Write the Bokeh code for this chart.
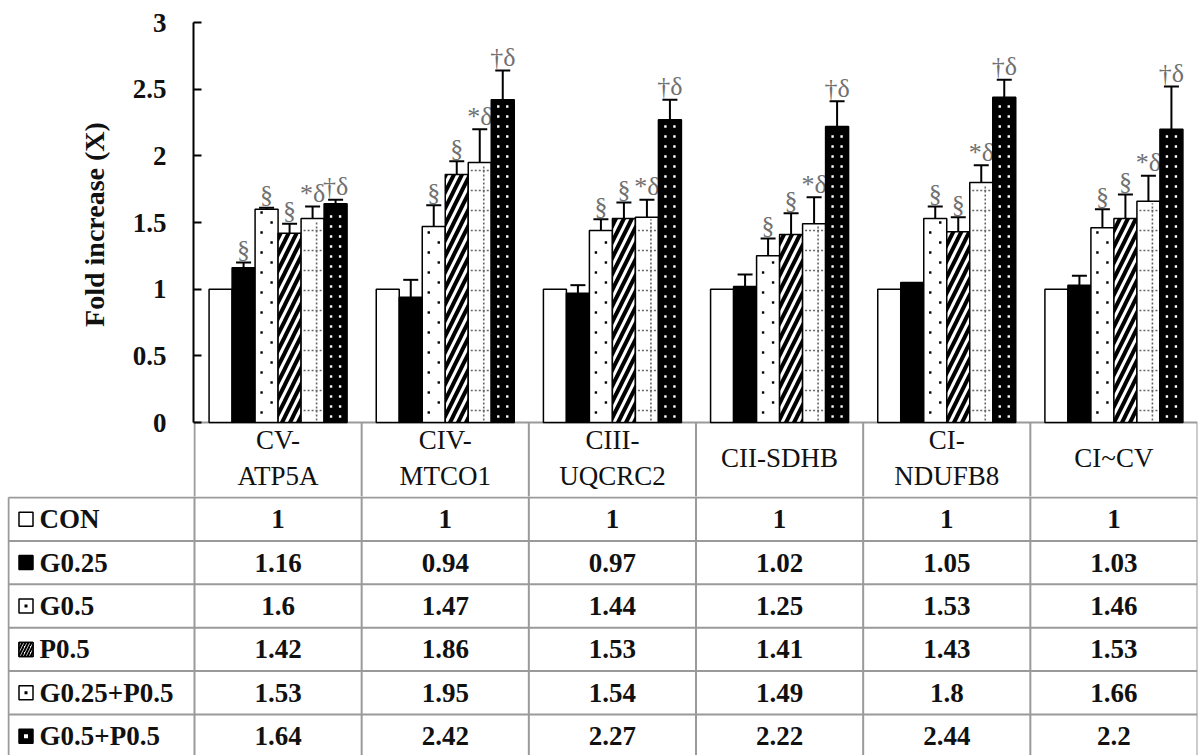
import numpy as np
from bokeh.plotting import figure
from bokeh.models import Range1d, FixedTicker, ColumnDataSource
from bokeh.core.properties import value
from bokeh.embed import file_html
from bokeh.resources import INLINE

# ---------------- data ----------------
categories = ["CV-ATP5A", "CIV-MTCO1", "CIII-UQCRC2", "CII-SDHB", "CI-NDUFB8", "CI~CV"]
category_labels = ["CV-\nATP5A", "CIV-\nMTCO1", "CIII-\nUQCRC2", "CII-SDHB", "CI-\nNDUFB8", "CI~CV"]
series_names = ["CON", "G0.25", "G0.5", "P0.5", "G0.25+P0.5", "G0.5+P0.5"]

con = [1, 1, 1, 1, 1, 1]
g025 = [1.16, 0.94, 0.97, 1.02, 1.05, 1.03]
g05 = [1.6, 1.47, 1.44, 1.25, 1.53, 1.46]
p05 = [1.42, 1.86, 1.53, 1.41, 1.43, 1.53]
g025p05 = [1.53, 1.95, 1.54, 1.49, 1.8, 1.66]
g05p05 = [1.64, 2.42, 2.27, 2.22, 2.44, 2.2]

con_err = [0, 0, 0, 0, 0, 0]
g025_err = [0.04, 0.13, 0.06, 0.09, 0.0, 0.07]
g05_err = [0.01, 0.16, 0.085, 0.13, 0.09, 0.14]
p05_err = [0.07, 0.10, 0.12, 0.16, 0.11, 0.18]
g025p05_err = [0.09, 0.25, 0.13, 0.20, 0.13, 0.19]
g05p05_err = [0.03, 0.22, 0.15, 0.19, 0.13, 0.32]

con_sig = ["", "", "", "", "", ""]
g025_sig = ["§", "", "", "", "", ""]
g05_sig = ["§", "§", "§", "§", "§", "§"]
p05_sig = ["§", "§", "§", "§", "§", "§"]
g025p05_sig = ["*δ", "*δ", "*δ", "*δ", "*δ", "*δ"]
g05p05_sig = ["†δ", "†δ", "†δ", "†δ", "†δ", "†δ"]

y_ticks = [0, 0.5, 1, 1.5, 2, 2.5, 3]
y_tick_labels = ["0", "0.5", "1", "1.5", "2", "2.5", "3"]
y_title = "Fold increase (X)"

all_values = [con, g025, g05, p05, g025p05, g05p05]
all_errs = [con_err, g025_err, g05_err, p05_err, g025p05_err, g05p05_err]
all_sigs = [con_sig, g025_sig, g05_sig, p05_sig, g025p05_sig, g05p05_sig]

# ---------------- layout constants ----------------
SERIF = value("Liberation Serif")
BAR_W = 0.1376
W = 1198
COL_PX = 1003 / 6.0          # pixels per category column
Y_PX = 400 / 3.0             # pixels per y unit
HEAD_PX = 74                 # header row height below the value axis
ROW_PX = 43.4
GRID = "#9a9a9a"
LW = 2
n_cat = len(categories)
n_rows = len(series_names)

styles = [
    dict(fill_color="white"),
    dict(fill_color="black"),
    dict(fill_color="white"),
    dict(fill_color="white", hatch_pattern="right_diagonal_line", hatch_color="black",
         hatch_scale=16, hatch_weight=4),
    dict(fill_color="white"),
    dict(fill_color="black"),
]

# ---------------- chart (with header row) ----------------
p = figure(width=W, height=22 + 400 + HEAD_PX,
           x_range=Range1d(-1 / COL_PX, 6), y_range=Range1d(-HEAD_PX / Y_PX, 3),
           output_backend="svg", toolbar_location=None,
           min_border_left=193, min_border_right=1, min_border_top=22, min_border_bottom=0)
p.outline_line_color = None
p.grid.visible = False
p.xaxis.visible = False
p.background_fill_color = "white"

head_y = -HEAD_PX / Y_PX
p.segment(x0=[0], y0=[0], x1=[n_cat], y1=[0], line_color=GRID, line_width=LW)
p.segment(x0=list(range(n_cat + 1)), y0=[0] * (n_cat + 1), x1=list(range(n_cat + 1)),
          y1=[head_y - 1] * (n_cat + 1), line_color=GRID, line_width=LW)
p.text(x=[i + 0.5 for i in range(n_cat)], y=[(head_y + 3 / Y_PX) / 2] * n_cat, text=category_labels,
       text_align="center", text_baseline="middle", text_font=SERIF, text_font_size="27px",
       text_line_height=1.18, text_color="#111111")


def rows_in_bar(top, start_px, step_px):
    """y positions (data units) of texture rows inside a bar of height `top`."""
    return np.arange(start_px, top * Y_PX - 3, step_px) / Y_PX


for j, (vals, errs, sigs, st) in enumerate(zip(all_values, all_errs, all_sigs, styles)):
    xs = [i + 0.5 + (j - 2.5) * BAR_W for i in range(n_cat)]
    src = ColumnDataSource(dict(x=xs, top=vals, err=errs,
                                cap=[v + e for v, e in zip(vals, errs)], sig=sigs))
    p.vbar(x="x", top="top", bottom=0, width=BAR_W, source=src,
           line_color="black", line_width=1.5, **st)

    # bar textures derived from each bar's extent
    if j == 2:   # sparse staggered black dots
        dx, dy = [], []
        for x, v in zip(xs, vals):
            for off, start in ((-5, 10), (5, 20)):
                ys = rows_in_bar(v, start, 20)
                dx += [x + off / COL_PX] * len(ys)
                dy += list(ys)
        p.scatter(x=dx, y=dy, marker="square", size=2.4, line_color=None, fill_color="black")
    if j == 4:   # dotted grid
        hx0, hx1, hy = [], [], []
        for x, v in zip(xs, vals):
            ys = rows_in_bar(v, 12, 20)
            hx0 += [x - 9 / COL_PX] * len(ys)
            hx1 += [x + 9 / COL_PX] * len(ys)
            hy += list(ys)
        p.segment(x0=hx0, y0=hy, x1=hx1, y1=hy, line_color="#666666", line_width=1.6,
                  line_dash="2 2")
        vx = [x + 4 / COL_PX for x in xs]
        p.segment(x0=vx, y0=[2 / Y_PX] * n_cat, x1=vx, y1=[v - 2 / Y_PX for v in vals],
                  line_color="#666666", line_width=1.6, line_dash="2 2")
    if j == 5:   # white dots on black
        dx, dy = [], []
        for x, v in zip(xs, vals):
            ys = rows_in_bar(v, 6, 10)
            for off in (-4.5, 4.5):
                dx += [x + off / COL_PX] * len(ys)
                dy += list(ys)
        p.scatter(x=dx, y=dy, marker="square", size=2.4, line_color=None, fill_color="white")

    ex = [x for x, e in zip(xs, errs) if e > 0]
    ey0 = [v for v, e in zip(vals, errs) if e > 0]
    ey1 = [v + e for v, e in zip(vals, errs) if e > 0]
    p.segment(x0=ex, y0=ey0, x1=ex, y1=ey1, line_color="black", line_width=2)
    p.scatter(x=ex, y=ey1, marker="dash", size=15, line_color="black", line_width=2)
    p.text(x="x", y="cap", text="sig", source=src, text_align="center",
           text_baseline="alphabetic", y_offset=-13, text_font=SERIF,
           text_font_size="26px", text_color="#707070")

ax = p.yaxis[0]
ax.ticker = FixedTicker(ticks=y_ticks)
ax.bounds = (0, 3)
ax.major_label_overrides = {t: s for t, s in zip(y_ticks, y_tick_labels)}
ax.axis_line_color = "black"
ax.axis_line_width = 2
ax.major_tick_in = 8
ax.major_tick_out = 0
ax.major_tick_line_width = 2
ax.minor_tick_line_color = None
ax.major_label_standoff = 27
ax.major_label_text_font = "Liberation Serif"
ax.major_label_text_font_style = "bold"
ax.major_label_text_font_size = "27px"
ax.major_label_text_color = "#111111"
# leading no-break spaces lift the centred title to the middle of the value axis
ax.axis_label = "\u00a0" * 10 + y_title
ax.axis_label_text_font = "Liberation Serif"
ax.axis_label_text_font_style = "bold"
ax.axis_label_text_font_size = "28px"
ax.axis_label_text_color = "#111111"
ax.axis_label_standoff = 20

# ---------------- table body ----------------
TOP_PX = 22 + 400 + HEAD_PX
TH = 755 - TOP_PX
LABEL_W = 187 / COL_PX
y_top = -1.0 / ROW_PX
y_bot = (TH - 1.0) / ROW_PX

t = figure(width=W, height=TH, x_range=Range1d(-LABEL_W, 6), y_range=Range1d(y_bot, y_top),
           output_backend="svg", toolbar_location=None,
           min_border_left=7, min_border_right=1, min_border_top=0, min_border_bottom=0)
t.outline_line_color = None
t.grid.visible = False
t.axis.visible = False

left_x = -LABEL_W + 1.0 / COL_PX
t.segment(x0=list(range(n_cat + 1)), y0=[y_top - 1] * (n_cat + 1), x1=list(range(n_cat + 1)),
          y1=[y_bot + 1] * (n_cat + 1), line_color=GRID, line_width=LW)
t.segment(x0=[left_x], y0=[0], x1=[left_x], y1=[y_bot + 1], line_color=GRID, line_width=LW)
t.segment(x0=[left_x] * n_rows, y0=list(range(n_rows)), x1=[n_cat] * n_rows,
          y1=list(range(n_rows)), line_color=GRID, line_width=LW)

icon_x = (25.5 - 194) / COL_PX
label_x = (39 - 194) / COL_PX
row_y = [r + 0.5 for r in range(n_rows)]
t.text(x=[label_x] * n_rows, y=row_y, text=series_names, text_align="left",
       text_baseline="middle", text_font=SERIF, text_font_style="bold",
       text_font_size="27px", text_color="#111111")

icon_fill = ["white", "black", "white", "white", "white", "black"]
t.scatter(x=[icon_x] * n_rows, y=row_y, marker="square", size=14, line_color="black",
          line_width=1.5, fill_color=icon_fill)
t.scatter(x=[icon_x], y=[row_y[3]], marker="square", size=14, line_color="black", line_width=1.5,
          fill_color="white", hatch_pattern="right_diagonal_line", hatch_color="black",
          hatch_scale=6, hatch_weight=2)
t.scatter(x=[icon_x, icon_x], y=[row_y[2], row_y[4]], marker="square", size=3,
          line_color=None, fill_color="black")
t.scatter(x=[icon_x], y=[row_y[5]], marker="square", size=4, line_color=None, fill_color="white")

for r, vals in enumerate(all_values):
    t.text(x=[i + 0.5 for i in range(n_cat)], y=[row_y[r]] * n_cat,
           text=[f"{v:g}" for v in vals], text_align="center", text_baseline="middle",
           text_font=SERIF, text_font_style="bold", text_font_size="27px", text_color="#111111")

open("out.html", "w").write(file_html([p, t], INLINE))
